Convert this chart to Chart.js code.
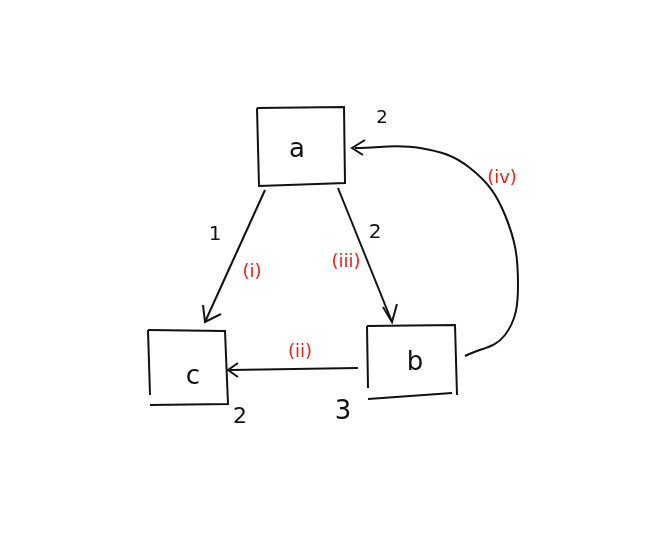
<!DOCTYPE html>
<html>
<head>
<meta charset="utf-8">
<script src="https://cdn.jsdelivr.net/npm/chart.js@4/dist/chart.umd.min.js"></script>
<style>
  html, body { margin: 0; padding: 0; background: #fff; }
  #wrap { width: 662px; height: 550px; }
</style>
</head>
<body>
<div id="wrap"><canvas id="diagram" width="662" height="550"></canvas></div>
<script>
// Hand-drawn strokes, in picture units (x right, y down)
const boxA = [[257,108],[344,107],[345,183],[259,186],[257,108]];
const boxB = [[367,326],[455,325],[457,395]];
const boxBLeft = [[367,326],[368,388]];
const boxBBottom = [[368,399],[452,393]];
const boxC = [[148,330],[225,331],[228,404],[150,405]];
const boxCLeft = [[148,330],[150,395]];

const edgeI = [[265,190],[205,322]];
const headI = [[203,305],[205,322],[221,314]];
const edgeIII = [[338,188],[392,322]];
const headIII = [[383,307],[392,322],[397,304]];
const edgeII = [[358,368],[230,370]];
const headII = [[238,363],[228,370],[238,377]];
const edgeIV = [[465,356],[505,335],[518,285],[505,215],[470,168],[420,148],[355,148]];
const headIV = [[365,140],[352,148],[363,155]];

const labelText = ['a','b','c','1','2','2','2','3','(i)','(iii)','(ii)','(iv)'];
const labelPos = [[297,150],[415,363],[193,377],[215,235],[375,233],[382,118],[240,417],[343,412],[252,272],[346,262],[300,352],[502,178]];
const labelSize = [26,26,26,20,20,18,22,26,18,18,18,18];
const labelRed = [false,false,false,false,false,false,false,false,true,true,true,true];

const strokes = [boxA, boxB, boxBLeft, boxBBottom, boxC, boxCLeft, edgeI, headI, edgeIII, headIII, edgeII, headII, edgeIV, headIV];

const labelsPlugin = {
  id: 'labels',
  afterDatasetsDraw(chart) {
    const { ctx, scales: { x, y } } = chart;
    ctx.save();
    ctx.textAlign = 'center';
    ctx.textBaseline = 'middle';
    labelText.forEach((t, i) => {
      ctx.fillStyle = labelRed[i] ? '#e8231c' : '#111';
      ctx.font = labelSize[i] + 'px "DejaVu Sans"';
      ctx.fillText(t, x.getPixelForValue(labelPos[i][0]), y.getPixelForValue(labelPos[i][1]));
    });
    ctx.restore();
  }
};

new Chart(document.getElementById('diagram'), {
  type: 'scatter',
  data: {
    datasets: strokes.map((s, i) => ({
      data: s.map(p => ({ x: p[0], y: p[1] })),
      showLine: true,
      borderColor: '#111',
      borderWidth: 2,
      pointRadius: 0,
      tension: s === edgeIV ? 0.4 : 0,
      fill: false
    }))
  },
  options: {
    responsive: false,
    animation: false,
    layout: { padding: 0 },
    plugins: { legend: { display: false }, tooltip: { enabled: false } },
    scales: {
      x: { type: 'linear', min: 0, max: 662, display: false },
      y: { type: 'linear', min: 0, max: 550, reverse: true, display: false }
    }
  },
  plugins: [labelsPlugin]
});
</script>
</body>
</html>
